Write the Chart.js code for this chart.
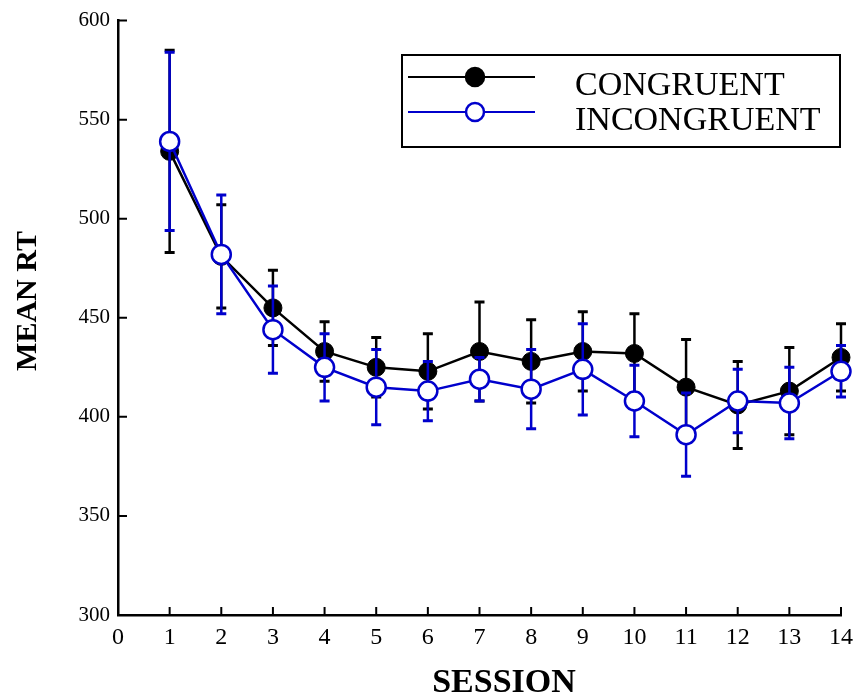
<!DOCTYPE html>
<html><head><meta charset="utf-8">
<script src="https://cdn.jsdelivr.net/npm/chart.js@4.4.1/dist/chart.umd.min.js"></script>
<style>html,body{margin:0;padding:0;background:#fff}</style>
</head><body>
<canvas id="c" width="861" height="700"></canvas>
<script>
const sessions = [1,2,3,4,5,6,7,8,9,10,11,12,13,14];
const xTickLabels = ['0','1','2','3','4','5','6','7','8','9','10','11','12','13','14'];
const yTickValues = [300,350,400,450,500,550,600];
const seriesNames = ['CONGRUENT','INCONGRUENT'];
const xTitle = 'SESSION';
const yTitle = 'MEAN RT';
const congruentMean = [534,481,455,433,425,423,433,428,433,432,415,406,413,430];
const congruentErr  = [51,26,19,15,15,19,25,21,20,20,24,22,22,17];
const incongruentMean = [539,482,444,425,415,413,419,414,424,408,391,408,407,423];
const incongruentErr  = [45,30,22,17,19,15,11,20,23,18,21,16,18,13];

const BLUE = '#0000cc';
const SERIF = '"Liberation Serif", "Times New Roman", serif';

function pts(means){ return sessions.map((s,i)=>({x:s,y:means[i]})); }

const errPlugin = {
  id:'errbars',
  beforeDatasetDraw(chart, args){
    const ds = chart.data.datasets[args.index];
    const xs = chart.scales.x, ys = chart.scales.y, ctx = chart.ctx;
    ctx.save();
    ctx.strokeStyle = ds.borderColor;
    ds.data.forEach((p,i)=>{
      const e = ds.errors[i];
      const px = xs.getPixelForValue(p.x);
      const t = ys.getPixelForValue(p.y+e), b = ys.getPixelForValue(p.y-e);
      ctx.lineWidth = 2.5;
      ctx.beginPath();
      ctx.moveTo(px,t); ctx.lineTo(px,b);
      ctx.stroke();
      ctx.lineWidth = 3;
      ctx.beginPath();
      ctx.moveTo(px-5,t); ctx.lineTo(px+5,t);
      ctx.moveTo(px-5,b); ctx.lineTo(px+5,b);
      ctx.stroke();
    });
    ctx.restore();
  }
};

const tickPlugin = {
  id:'inticks',
  afterDraw(chart){
    const xs = chart.scales.x, ys = chart.scales.y, ctx = chart.ctx;
    const ca = chart.chartArea;
    ctx.save();
    ctx.strokeStyle = '#000'; ctx.lineWidth = 2;
    ctx.beginPath();
    xs.ticks.forEach(t=>{ if(t.value===0) return; const px = xs.getPixelForValue(t.value); ctx.moveTo(px,ca.bottom); ctx.lineTo(px,ca.bottom-8); });
    ys.ticks.forEach(t=>{ if(t.value===300) return; const py = ys.getPixelForValue(t.value); ctx.moveTo(ca.left,py); ctx.lineTo(ca.left+9,py); });
    ctx.stroke();
    ctx.fillStyle = '#000';
    ctx.textAlign = 'center'; ctx.textBaseline = 'middle';
    ctx.font = 'bold 34px ' + SERIF;
    ctx.fillText(xTitle, 504, 683);
    ctx.translate(28, 301);
    ctx.rotate(-Math.PI/2);
    ctx.font = 'bold 30px ' + SERIF;
    ctx.fillText(yTitle, 0, 0);
    ctx.restore();
  }
};

const legendPlugin = {
  id:'boxlegend',
  afterDraw(chart){
    const ctx = chart.ctx;
    ctx.save();
    ctx.strokeStyle = '#000'; ctx.lineWidth = 2;
    ctx.strokeRect(402,55,438,92);
    const rows = [
      {y:77, color:'#000', fill:'#000', label:seriesNames[0], base:95},
      {y:112, color:BLUE, fill:'#fff', label:seriesNames[1], base:130}
    ];
    rows.forEach(r=>{
      ctx.strokeStyle = r.color; ctx.lineWidth = 2;
      ctx.beginPath(); ctx.moveTo(408,r.y); ctx.lineTo(535,r.y); ctx.stroke();
      ctx.beginPath(); ctx.arc(475,r.y,9,0,Math.PI*2);
      ctx.fillStyle = r.fill; ctx.fill(); ctx.lineWidth = 2.5; ctx.stroke();
      ctx.fillStyle = '#000'; ctx.font = '34px ' + SERIF; ctx.textBaseline = 'alphabetic'; ctx.textAlign='left';
      ctx.fillText(r.label, 575, r.base);
    });
    ctx.restore();
  }
};

new Chart(document.getElementById('c'), {
  type:'line',
  data:{
    datasets:[
      { label:seriesNames[1], data:pts(incongruentMean), errors:incongruentErr,
        borderColor:BLUE, backgroundColor:'#fff', borderWidth:2.5, clip:false,
        pointRadius:9.5, pointBorderWidth:2.5, pointBackgroundColor:'#fff', pointBorderColor:BLUE, tension:0 },
      { label:seriesNames[0], data:pts(congruentMean), errors:congruentErr,
        borderColor:'#000', backgroundColor:'#000', borderWidth:2.5, clip:false,
        pointRadius:9, pointBorderWidth:1, pointBackgroundColor:'#000', pointBorderColor:'#000', tension:0 }
    ]
  },
  options:{
    responsive:false, animation:false, devicePixelRatio:1,
    layout:{padding:{top:18,right:18,left:0,bottom:0}},
    plugins:{legend:{display:false}, tooltip:{enabled:false}},
    scales:{
      x:{ type:'linear', min:0, max:14,
        afterFit(s){ s.height = 85; },
        afterBuildTicks(s){ s.ticks = xTickLabels.map((l,i)=>({value:i})); },
        ticks:{ stepSize:1, padding:8, color:'#000', font:{family:SERIF,size:24},
          callback:(v)=>xTickLabels[v] },
        grid:{display:false, drawTicks:false},
        border:{display:true, color:'#000', width:2.5},
        title:{display:false}
      },
      y:{ type:'linear', min:300, max:600,
        afterFit(s){ s.width = 118; },
        afterBuildTicks(s){ s.ticks = yTickValues.map(v=>({value:v})); },
        ticks:{ padding:8, color:'#000', font:{family:SERIF,size:21} },
        grid:{display:false, drawTicks:false},
        border:{display:true, color:'#000', width:2.5},
        title:{display:false}
      }
    }
  },
  plugins:[errPlugin, tickPlugin, legendPlugin]
});
</script>
</body></html>
